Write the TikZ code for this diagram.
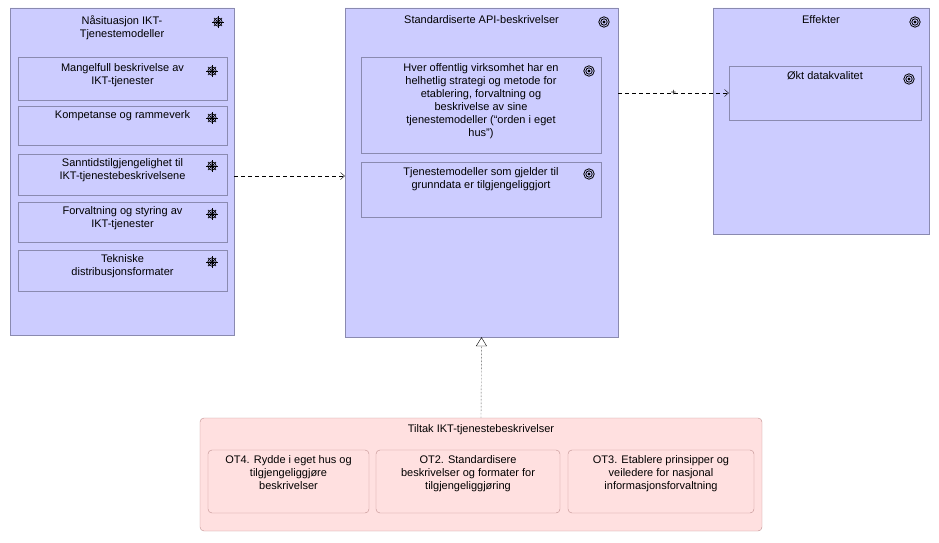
\documentclass[tikz,border=0pt]{standalone}
\usepackage{fontspec}
\setmainfont{Liberation Sans}
\usetikzlibrary{positioning, calc, arrows.meta, shapes.misc}

\definecolor{motfill}{HTML}{CCCCFF}
\definecolor{motline}{HTML}{8A8AB0}
\definecolor{tilfill}{HTML}{FFE0E0}
\definecolor{tilline}{HTML}{C09090}

\tikzset{
    driver/.pic={
        \draw[line width=0.7pt] (0,0) circle (4.2);
        \draw[line width=0.7pt] (0,0) circle (2.2);
        \foreach \a in {0,45,...,315} \draw[line width=0.7pt] (\a:0) -- (\a:5.8);
    },
    goal/.pic={
        \draw[line width=0.8pt] (0,0) circle (5.2);
        \draw[line width=0.8pt] (0,0) circle (3.2);
        \fill (0,0) circle (1.6);
    }
}

\begin{document}
\begin{tikzpicture}[
    x=1pt, y=-1pt,
    font=\fontsize{11}{13}\selectfont,
    group/.style={chamfered rectangle, chamfered rectangle xsep=8pt, draw=motline, fill=motfill, inner sep=0pt},
    item/.style={chamfered rectangle, chamfered rectangle xsep=8pt, draw=motline, fill=motfill, inner sep=0pt},
    action/.style={rectangle, rounded corners=4pt, draw=tilline, fill=tilfill, inner sep=0pt},
    txt/.style={align=center, anchor=north, inner sep=0pt},
    flow/.style={dashed, dash pattern=on 4pt off 3pt, thin}
]
    \useasboundingbox (0,0) rectangle (939,543);

    % Naasituasjon
    \node[group, minimum width=224pt, minimum height=327pt] (naa) at (122,171.5) {};
    \node[txt] at ($(naa.north)+(0,8)$) {Nåsituasjon IKT-\\Tjenestemodeller};
    \pic at (218,22) {driver};

    \node[item, minimum width=209pt, minimum height=43pt] (mangel) at (122.5,78.5) {};
    \node[txt] at ($(mangel.north)+(0,7)$) {Mangelfull beskrivelse av\\IKT-tjenester};
    \pic at (212,71) {driver};
    \node[item, minimum width=209pt, minimum height=39pt] (kompetanse) at (122.5,125.5) {};
    \node[txt] at ($(kompetanse.north)+(0,5)$) {Kompetanse og rammeverk};
    \pic at (212,118) {driver};
    \node[item, minimum width=209pt, minimum height=41pt] (sanntid) at (122.5,174.5) {};
    \node[txt] at ($(sanntid.north)+(0,5)$) {Sanntidstilgjengelighet til\\IKT-tjenestebeskrivelsene};
    \pic at (212,166) {driver};
    \node[item, minimum width=209pt, minimum height=40pt] (forvaltning) at (122.5,222) {};
    \node[txt] at ($(forvaltning.north)+(0,5)$) {Forvaltning og styring av\\IKT-tjenester};
    \pic at (212,214) {driver};
    \node[item, minimum width=209pt, minimum height=41pt] (tekniske) at (122.5,270.5) {};
    \node[txt] at ($(tekniske.north)+(0,5)$) {Tekniske\\distribusjonsformater};
    \pic at (212,262) {driver};

    % Standardiserte API-beskrivelser
    \node[group, minimum width=273pt, minimum height=329pt] (api) at (481.5,172.5) {};
    \node[txt] at ($(api.north)+(0,8)$) {Standardiserte API-beskrivelser};
    \pic at (604,22) {goal};
    \node[item, minimum width=240pt, minimum height=96pt] (orden) at (481,105) {};
    \node[txt] at ($(orden.north)+(0,7)$) {Hver offentlig virksomhet har en\\helhetlig strategi og metode for\\etablering, forvaltning og\\beskrivelse av sine\\tjenestemodeller (“orden i eget\\hus”)};
    \pic at (589,71) {goal};
    \node[item, minimum width=240pt, minimum height=55pt] (grunndata) at (481,189.5) {};
    \node[txt] at ($(grunndata.north)+(0,6)$) {Tjenestemodeller som gjelder til\\grunndata er tilgjengeliggjort};
    \pic at (589,174) {goal};

    % Effekter
    \node[group, minimum width=216pt, minimum height=226pt] (effekter) at (821,121) {};
    \node[txt] at ($(effekter.north)+(0,8)$) {Effekter};
    \pic at (915,22) {goal};
    \node[item, minimum width=192pt, minimum height=54pt] (kvalitet) at (825,93) {};
    \node[txt] at ($(kvalitet.north)+(0,6)$) {Økt datakvalitet};
    \pic at (909,79) {goal};

    % Tiltak
    \node[action, minimum width=562pt, minimum height=113pt] (tiltak) at (481,474.5) {};
    \node[txt] at ($(tiltak.north)+(0,7)$) {Tiltak IKT-tjenestebeskrivelser};
    \node[action, minimum width=161pt, minimum height=63pt] (ot4) at (288.5,481.5) {};
    \node[txt] at ($(ot4.north)+(0,6)$) {OT4. Rydde i eget hus og\\tilgjengeliggjøre\\beskrivelser};
    \node[action, minimum width=184pt, minimum height=63pt] (ot2) at (468,481.5) {};
    \node[txt] at ($(ot2.north)+(0,6)$) {OT2. Standardisere\\beskrivelser og formater for\\tilgjengeliggjøring};
    \node[action, minimum width=186pt, minimum height=63pt] (ot3) at (661,481.5) {};
    \node[txt] at ($(ot3.north)+(0,6)$) {OT3. Etablere prinsipper og\\veiledere for nasjonal\\informasjonsforvaltning};

    % Relasjoner
    \coordinate (naaout) at (naa.east |- 0,176);
    \draw[flow, -{Straight Barb[length=4pt,width=7pt]}] (naaout) -- (naaout -| api.west);
    \coordinate (apiout) at (api.east |- kvalitet.west);
    \draw[flow, -{Straight Barb[length=4pt,width=7pt]}] (apiout) -- node[pos=0.5, inner sep=0pt] (plus) {\fontsize{9}{9}\selectfont +} (kvalitet.west);
    \draw[densely dotted, thin, -{Triangle[open,length=9pt,width=11pt]}] (tiltak.north) -- (api.south);

\end{tikzpicture}
\end{document}
